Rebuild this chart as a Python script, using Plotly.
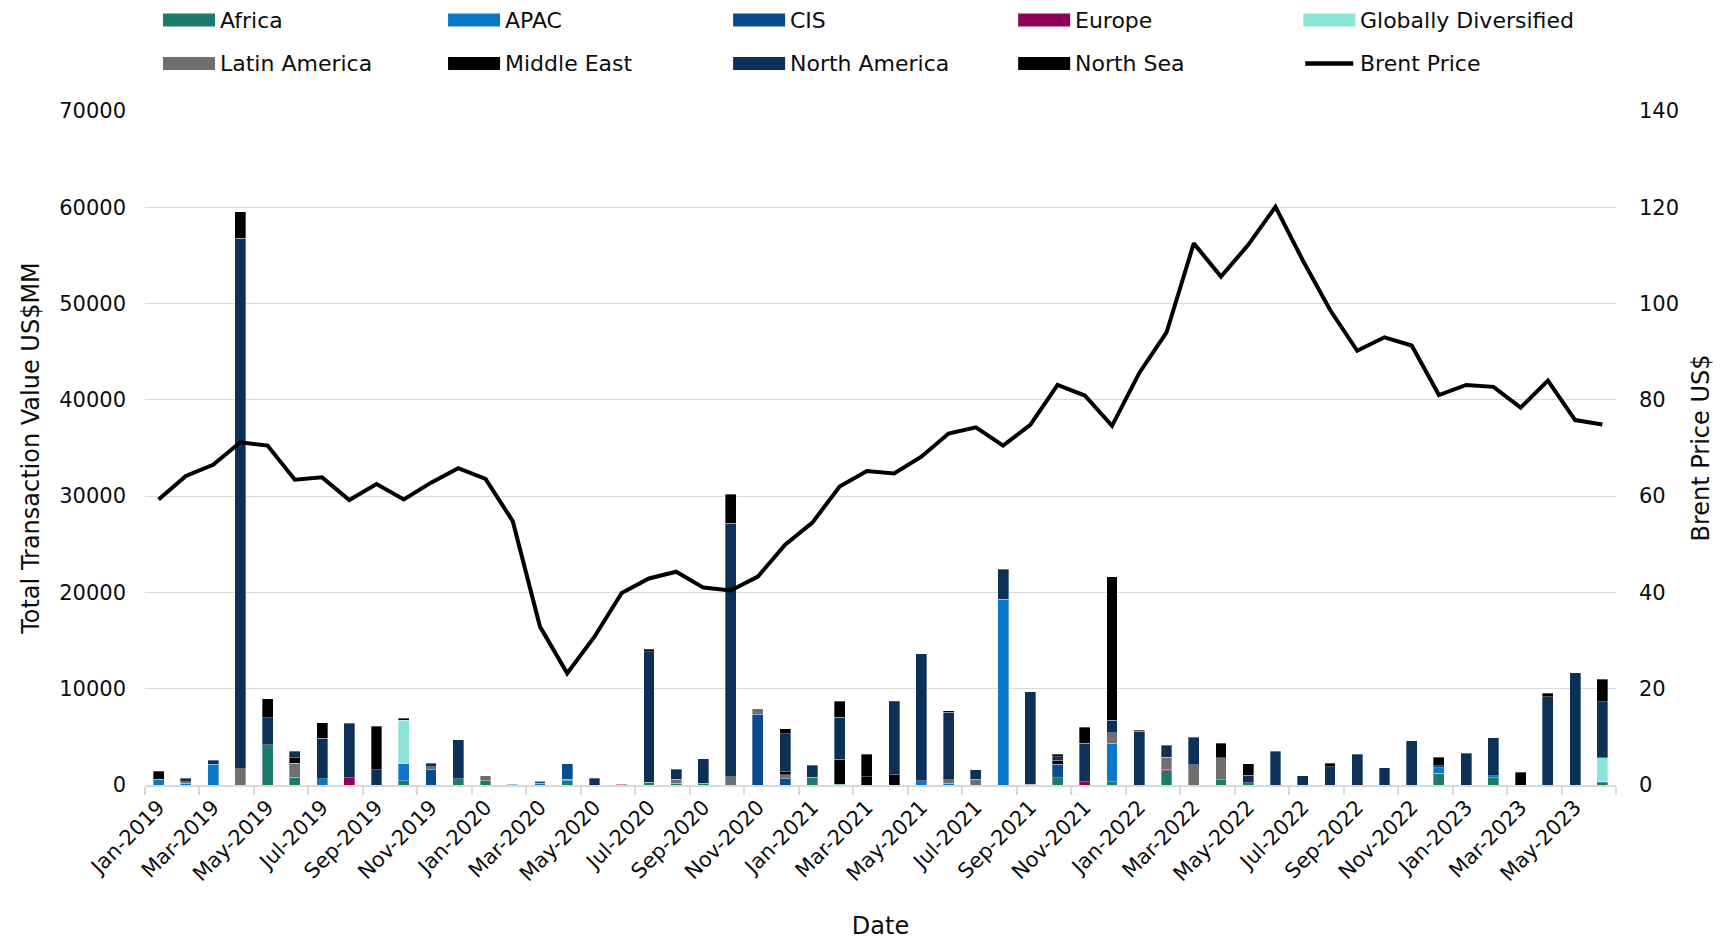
import plotly.graph_objects as go

months = [
    "Jan-2019", "Feb-2019", "Mar-2019", "Apr-2019", "May-2019", "Jun-2019",
    "Jul-2019", "Aug-2019", "Sep-2019", "Oct-2019", "Nov-2019", "Dec-2019",
    "Jan-2020", "Feb-2020", "Mar-2020", "Apr-2020", "May-2020", "Jun-2020",
    "Jul-2020", "Aug-2020", "Sep-2020", "Oct-2020", "Nov-2020", "Dec-2020",
    "Jan-2021", "Feb-2021", "Mar-2021", "Apr-2021", "May-2021", "Jun-2021",
    "Jul-2021", "Aug-2021", "Sep-2021", "Oct-2021", "Nov-2021", "Dec-2021",
    "Jan-2022", "Feb-2022", "Mar-2022", "Apr-2022", "May-2022", "Jun-2022",
    "Jul-2022", "Aug-2022", "Sep-2022", "Oct-2022", "Nov-2022", "Dec-2022",
    "Jan-2023", "Feb-2023", "Mar-2023", "Apr-2023", "May-2023", "Jun-2023",
]

# Transaction value by region, US$MM per month
africa = [
    0, 0, 0, 0, 4180, 800, 0, 0, 0, 420,
    0, 630, 420, 0, 0, 450, 0, 0, 280, 170,
    170, 0, 0, 0, 800, 100, 0, 0, 0, 0,
    0, 0, 0, 730, 0, 350, 0, 1500, 0, 560,
    240, 0, 0, 0, 0, 0, 0, 1220, 0, 770,
    0, 0, 0, 250,
]
apac = [
    590, 170, 2160, 0, 0, 0, 630, 0, 0, 1770,
    0, 0, 0, 60, 200, 140, 0, 50, 0, 0,
    0, 0, 0, 0, 0, 0, 0, 0, 450, 170,
    0, 19300, 0, 0, 0, 3970, 0, 0, 0, 0,
    0, 0, 0, 0, 0, 0, 0, 590, 0, 170,
    0, 0, 0, 0,
]
cis = [
    0, 0, 0, 0, 0, 0, 0, 0, 0, 0,
    1570, 0, 0, 0, 180, 1600, 0, 0, 0, 0,
    0, 0, 7340, 630, 0, 0, 0, 0, 0, 0,
    0, 0, 0, 1430, 0, 0, 0, 0, 0, 0,
    0, 0, 0, 0, 0, 0, 0, 200, 0, 0,
    0, 0, 0, 100,
]
europe = [
    0, 0, 0, 0, 0, 0, 0, 730, 0, 0,
    0, 0, 0, 50, 60, 0, 0, 50, 0, 0,
    0, 0, 0, 0, 0, 0, 0, 0, 0, 0,
    0, 0, 0, 0, 350, 0, 0, 100, 0, 0,
    0, 0, 0, 0, 0, 0, 0, 0, 0, 0,
    0, 0, 0, 0,
]
globally_diversified = [
    0, 0, 0, 0, 0, 0, 0, 0, 0, 4520,
    0, 0, 0, 0, 0, 0, 0, 0, 0, 0,
    0, 0, 0, 0, 0, 0, 0, 0, 0, 0,
    0, 0, 0, 0, 0, 0, 0, 0, 0, 0,
    0, 0, 0, 0, 0, 0, 0, 0, 0, 0,
    0, 0, 0, 2500,
]
latin_america = [
    0, 170, 0, 1700, 0, 1460, 0, 0, 0, 0,
    350, 0, 520, 0, 0, 0, 0, 0, 0, 420,
    0, 835, 560, 420, 0, 0, 0, 0, 0, 350,
    520, 0, 70, 0, 0, 1110, 0, 1290, 2120, 2260,
    0, 0, 0, 0, 0, 0, 0, 0, 0, 0,
    0, 0, 0, 0,
]
middle_east = [
    0, 0, 0, 0, 0, 590, 0, 0, 0, 0,
    0, 0, 0, 0, 0, 0, 0, 0, 0, 0,
    0, 0, 0, 350, 0, 2570, 870, 1080, 0, 0,
    70, 0, 0, 400, 0, 0, 0, 0, 0, 0,
    0, 0, 0, 0, 0, 0, 0, 0, 0, 0,
    0, 0, 0, 0,
]
north_america = [
    0, 360, 420, 55100, 2780, 660, 4210, 5700, 1570, 0,
    350, 4070, 0, 0, 0, 0, 700, 0, 13540, 1040,
    2540, 26345, 0, 3900, 1250, 4380, 0, 7590, 13180, 7060,
    970, 3100, 9600, 380, 4000, 1320, 5570, 1220, 2850, 0,
    770, 3480, 970, 1910, 3200, 1770, 4590, 0, 3300, 3970,
    0, 9150, 11660, 5780,
]
north_sea = [
    835, 0, 0, 2750, 1980, 0, 1600, 0, 4520, 240,
    0, 0, 0, 0, 0, 0, 0, 0, 280, 0,
    0, 3010, 0, 520, 0, 1670, 2330, 70, 0, 140,
    0, 0, 0, 260, 1640, 14900, 100, 0, 0, 1500,
    1180, 0, 0, 350, 0, 0, 0, 870, 0, 0,
    1320, 380, 0, 2330,
]

# Monthly average Brent price, US$
brent_price = [
    59.3, 64.2, 66.5, 71.2, 70.5, 63.4, 63.9, 59.2, 62.5, 59.3,
    62.8, 65.8, 63.6, 54.8, 32.9, 23.2, 30.8, 39.9, 42.9, 44.3,
    41.0, 40.4, 43.3, 49.9, 54.5, 62.0, 65.2, 64.7, 68.2, 73.0,
    74.3, 70.5, 74.8, 83.1, 80.9, 74.6, 85.6, 94.0, 112.5, 105.6,
    112.2, 120.1, 109.0, 98.7, 90.2, 93.0, 91.3, 81.0, 83.1, 82.7,
    78.4, 84.0, 75.8, 74.9,
]

regions = [
    ("Africa", africa, "#1D7B6C"),
    ("APAC", apac, "#0A77C9"),
    ("CIS", cis, "#0A4B8B"),
    ("Europe", europe, "#8F0058"),
    ("Globally Diversified", globally_diversified, "#8AE5D7"),
    ("Latin America", latin_america, "#6F6F6F"),
    ("Middle East", middle_east, "#000000"),
    ("North America", north_america, "#0D3057"),
    ("North Sea", north_sea, "#000000"),
]

FONT = "DejaVu Sans"
TEXT = "#0d0d0d"
GRID = "#D9D9D9"

x_idx = list(range(len(months)))

fig = go.Figure()
for name, vals, color in regions:
    fig.add_trace(go.Bar(
        x=x_idx,
        y=[v if v else None for v in vals],
        name=name,
        marker=dict(color=color, line=dict(color="rgba(255,255,255,0.55)", width=0.6)),
        width=0.4,
        showlegend=False,
    ))

fig.add_trace(go.Scatter(
    x=x_idx,
    y=brent_price,
    name="Brent Price",
    mode="lines",
    line=dict(color="#000000", width=4),
    yaxis="y2",
    showlegend=False,
))

# Legend drawn as swatches + labels in two rows of five columns
legend_items = [(n, c, "bar") for n, _, c in regions] + [("Brent Price", "#000000", "line")]
plot_left, plot_w = 145.0, 1470.7
plot_bottom, plot_h = 785.0, 674.0


def px_x(px):
    return (px - plot_left) / plot_w


def px_y(py):
    return (plot_bottom - py) / plot_h


shapes = []
annotations = []
col_x0, col_step = 163.0, 285.0
row_y = [20.0, 63.5]
for i, (name, color, kind) in enumerate(legend_items):
    r, c = divmod(i, 5)
    x0 = col_x0 + c * col_step
    yc = row_y[r]
    if kind == "bar":
        shapes.append(dict(
            type="rect", xref="paper", yref="paper",
            x0=px_x(x0), x1=px_x(x0 + 52), y0=px_y(yc + 6.5), y1=px_y(yc - 6.5),
            fillcolor=color, line=dict(width=0),
        ))
    else:
        shapes.append(dict(
            type="line", xref="paper", yref="paper",
            x0=px_x(x0 + 2), x1=px_x(x0 + 50), y0=px_y(yc), y1=px_y(yc),
            line=dict(color=color, width=4.5),
        ))
    annotations.append(dict(
        xref="paper", yref="paper", x=px_x(x0 + 55), y=px_y(yc),
        text=name, showarrow=False, xanchor="left", yanchor="middle",
        font=dict(family=FONT, size=22, color=TEXT),
    ))

fig.update_layout(
    width=1729,
    height=940,
    margin=dict(l=145, r=113.3, t=111, b=155, autoexpand=False),
    paper_bgcolor="white",
    plot_bgcolor="white",
    barmode="stack",
    font=dict(family=FONT, size=21, color=TEXT),
    shapes=shapes,
    annotations=annotations,
    xaxis=dict(
        range=[-0.5, len(months) - 0.5],
        tickmode="array",
        tickvals=x_idx[::2],
        ticktext=months[::2],
        tickangle=-45,
        ticks="",
        showgrid=False,
        zeroline=False,
        showline=True,
        linecolor=GRID,
        linewidth=1.5,
        tickfont=dict(family=FONT, size=21, color=TEXT),
        minor=dict(
            tickmode="array",
            tickvals=[i - 0.5 for i in range(0, len(months) + 1, 2)],
            ticks="outside",
            ticklen=8,
            tickwidth=1.5,
            tickcolor=GRID,
            showgrid=False,
        ),
        title=dict(text="Date", font=dict(family=FONT, size=24, color=TEXT), standoff=34),
        automargin=False,
    ),
    yaxis=dict(
        range=[0, 70000],
        tickmode="linear",
        tick0=0,
        dtick=10000,
        tickformat="d",
        ticklabelstandoff=18,
        showgrid=True,
        gridcolor=GRID,
        gridwidth=1.3,
        zeroline=False,
        showline=False,
        ticks="",
        tickfont=dict(family=FONT, size=21, color=TEXT),
        title=dict(text="Total Transaction Value US$MM",
                   font=dict(family=FONT, size=24, color=TEXT), standoff=12),
        automargin=False,
    ),
    yaxis2=dict(
        range=[0, 140],
        tickmode="linear",
        tick0=0,
        dtick=20,
        overlaying="y",
        side="right",
        ticklabelstandoff=22,
        showgrid=False,
        zeroline=False,
        showline=False,
        ticks="",
        tickfont=dict(family=FONT, size=21, color=TEXT),
        title=dict(text="Brent Price US$", font=dict(family=FONT, size=24, color=TEXT), standoff=14),
        automargin=False,
    ),
)

fig.write_html("out.html")
